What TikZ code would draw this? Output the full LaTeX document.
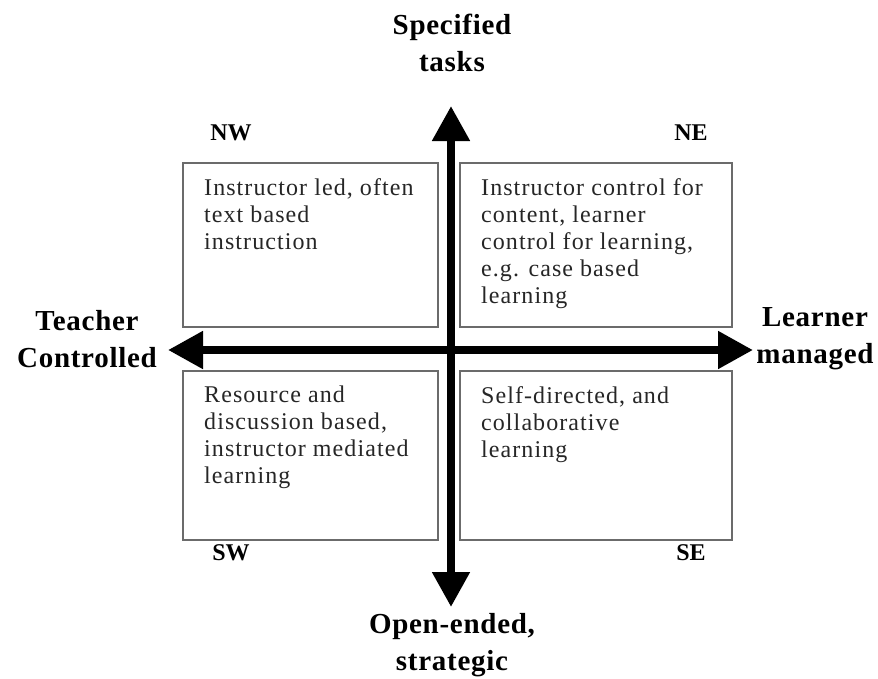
\documentclass[tikz,border=0pt]{standalone}
\usepackage{fontspec}
\setmainfont{Liberation Serif}
\usetikzlibrary{arrows.meta}
\begin{document}
\begin{tikzpicture}[x=1pt,y=-1pt,
  quad/.style={draw=black!58, line width=2.5pt, fill=white, inner sep=0pt},
  boxtext/.style={anchor=north west, align=left, inner sep=0pt, text=black!85,
    font=\fontsize{24}{27}\selectfont\addfontfeatures{LetterSpace=4.5}},
  axislabel/.style={align=center, inner sep=0pt,
    font=\fontsize{29}{37}\selectfont\bfseries\addfontfeatures{LetterSpace=2.5}},
  corner/.style={inner sep=0pt, font=\fontsize{24}{28}\selectfont\bfseries},
  axis/.style={line width=8pt, {Triangle[width=36pt,length=35pt]}-{Triangle[width=36pt,length=35pt]}}]
\useasboundingbox (0,0) rectangle (878,678);
% quadrant boxes
\node[quad, minimum width=255pt, minimum height=164pt] (nw) at (310.5,245) {};
\node[quad, minimum width=272pt, minimum height=164pt] (ne) at (596,245) {};
\node[quad, minimum width=255pt, minimum height=169pt] (sw) at (310.5,455.5) {};
\node[quad, minimum width=272pt, minimum height=169pt] (se) at (596,455.5) {};
% box texts
\node[boxtext] (tnw) at (204,178) {Instructor led, often\\text based\\instruction};
\node[boxtext] (tne) at (481,178) {Instructor control for\\content, learner\\control for learning,\\e.g. case based\\learning};
\node[boxtext] (tsw) at (204,386) {Resource and\\discussion based,\\instructor mediated\\learning};
\node[boxtext] (tse) at (481,386) {Self-directed, and\\collaborative\\learning};
% axes
\coordinate (top) at (451,106);
\coordinate (bot) at (451,607);
\coordinate (lft) at (168,350);
\coordinate (rgt) at (753,350);
\draw[axis] (lft) -- (rgt);
\draw[axis] (top) -- (bot);
% axis labels
\node[axislabel] (spec) at (452,43) {Specified\\tasks};
\node[axislabel] (open) at (452,645) {Open-ended,\\strategic};
\node[axislabel] (teach) at (87,339) {Teacher\\Controlled};
\node[axislabel] (learn) at (815,339) {Learner\\managed};
% corner labels
\node[corner] (lnw) at (231,133) {NW};
\node[corner] (lne) at (691,133) {NE};
\node[corner] (lsw) at (231,553) {SW};
\node[corner] (lse) at (691,553) {SE};
\end{tikzpicture}
\end{document}
